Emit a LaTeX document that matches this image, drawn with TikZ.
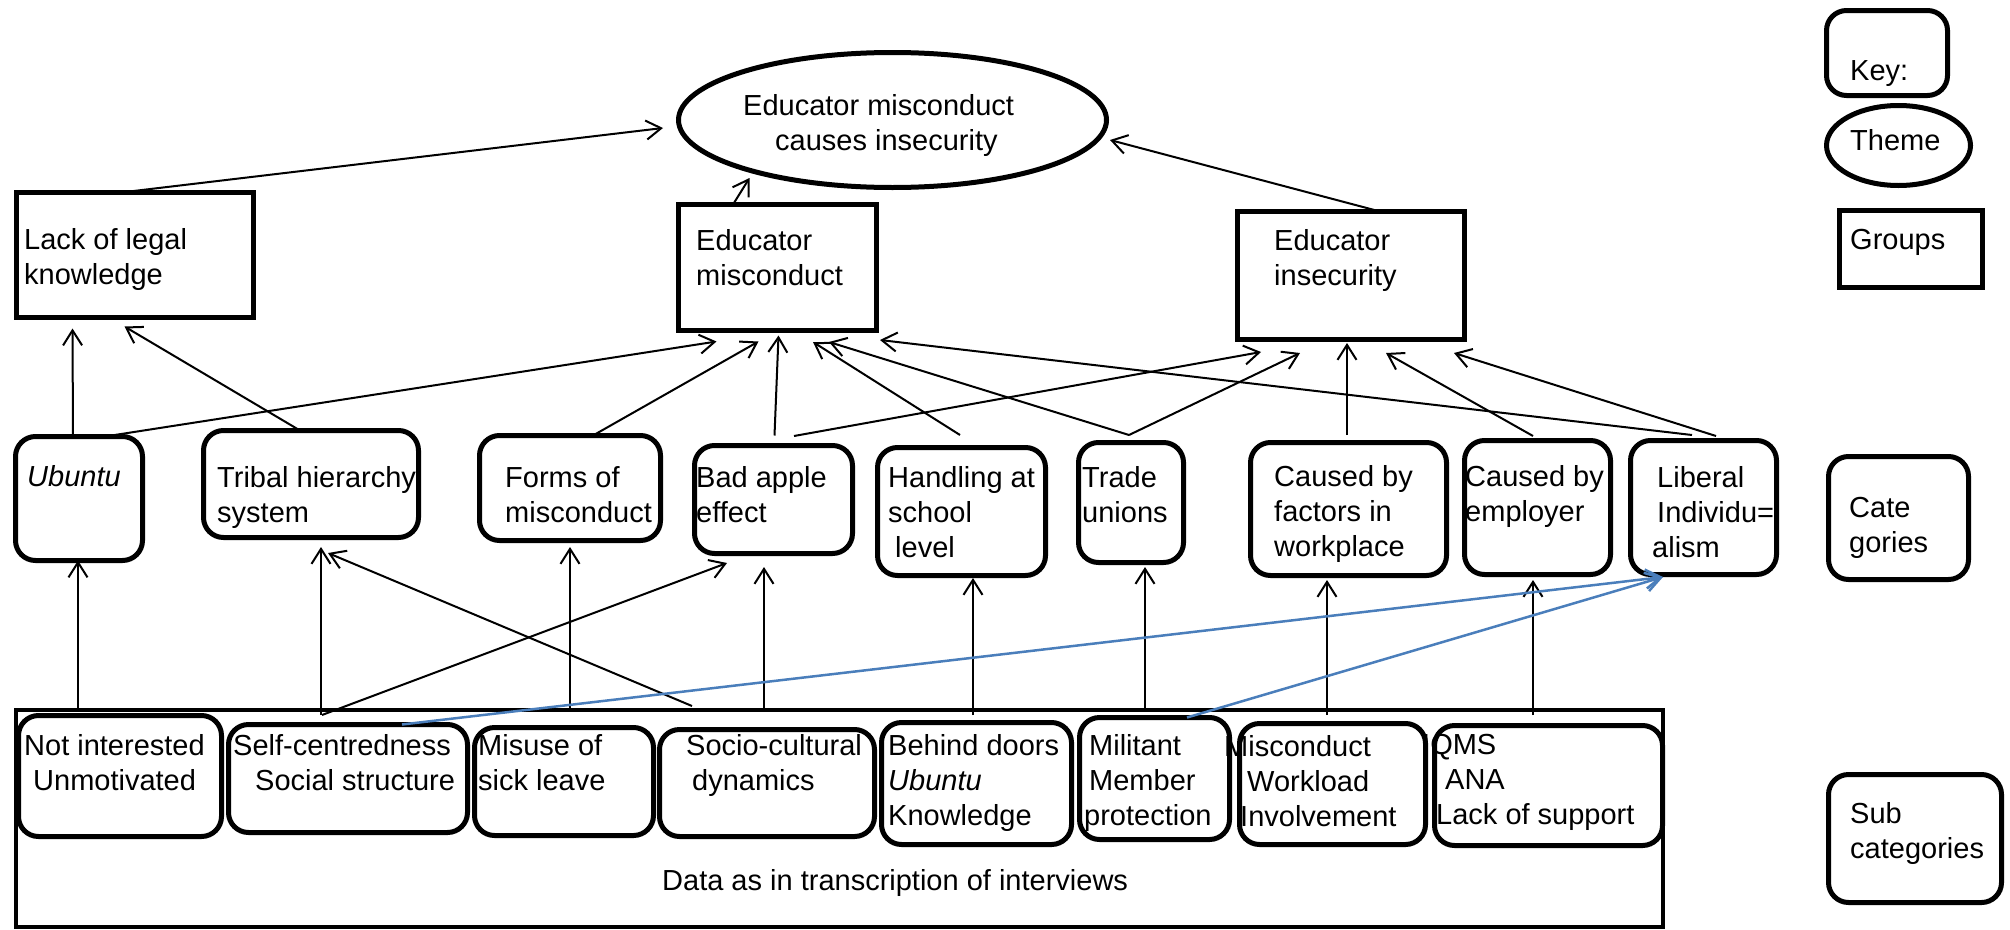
\documentclass[tikz,border=0pt]{standalone}
\usepackage{fontspec}
\setmainfont{Liberation Sans}
\usepackage{xcolor}
\usetikzlibrary{shapes.geometric, arrows.meta}
\definecolor{linkblue}{RGB}{74,126,187}
\tikzset{
  grpbox/.style={
    rectangle, draw=black, line width=5pt,
    inner sep=0pt, outer sep=0pt,
  },
  catbox/.style={
    rectangle, rounded corners=20pt,
    draw=black, line width=5pt,
    inner sep=0pt, outer sep=0pt,
  },
  themeell/.style={
    ellipse, draw=black, line width=5pt,
    inner sep=0pt, outer sep=0pt,
  },
  lbl/.style={
    font=\fontsize{29}{35}\selectfont,
    inner sep=0pt, anchor=north west, align=left,
  },
  arrow/.style={-{Straight Barb[length=15pt, width=19pt]}, line width=2pt},
}

\begin{document}
\begin{tikzpicture}[
  x=1pt, y=-1pt,
  link/.style={arrow, draw=linkblue, line width=2.5pt},
]
  \useasboundingbox (0,0) rectangle (2010,929);

  % Theme and groups
  \node[themeell, minimum width=428pt, minimum height=135pt] (theme) at (892.5,120) {};
  \node[grpbox, minimum width=237pt, minimum height=125pt] (lack)   at (135,255) {};
  \node[grpbox, minimum width=198pt, minimum height=126pt] (emis)   at (777.5,267.5) {};
  \node[grpbox, minimum width=227pt, minimum height=128pt] (einsec) at (1351,275.5) {};

  % Categories
  \node[catbox, minimum width=127pt, minimum height=124pt] (ubuntu)   at (79,498.5) {};
  \node[catbox, minimum width=215pt, minimum height=107pt] (tribal)   at (311,484) {};
  \node[catbox, minimum width=181pt, minimum height=105pt] (forms)    at (570,488) {};
  \node[catbox, minimum width=158pt, minimum height=108pt] (badapple) at (773.5,499.5) {};
  \node[catbox, minimum width=168pt, minimum height=128pt] (handling) at (961.5,511.5) {};
  \node[catbox, minimum width=105pt, minimum height=120pt] (trade)    at (1131,502.5) {};
  \node[catbox, minimum width=196pt, minimum height=133pt] (factors)  at (1348.5,509) {};
  \node[catbox, minimum width=146pt, minimum height=134pt] (employer) at (1537.5,507.5) {};
  \node[catbox, minimum width=146pt, minimum height=134pt] (liberal)  at (1703.5,507.5) {};

  % Sub categories on the data
  \node[grpbox, line width=4pt, minimum width=1647pt, minimum height=217pt] (data) at (839.5,818.5) {};
  \node[catbox, minimum width=203pt, minimum height=121pt] (notint)   at (120,776) {};
  \node[catbox, minimum width=239pt, minimum height=108pt] (selfc)    at (348,778.5) {};
  \node[catbox, minimum width=179pt, minimum height=108pt] (misuse)   at (564,781.5) {};
  \node[catbox, minimum width=215pt, minimum height=107pt] (socio)    at (767,783) {};
  \node[catbox, minimum width=190pt, minimum height=122pt] (behind)   at (976.5,783.5) {};
  \node[catbox, minimum width=150pt, minimum height=122pt] (militant) at (1154.5,778.5) {};
  \node[catbox, minimum width=186pt, minimum height=121pt] (miscond)  at (1332.5,784) {};
  \node[catbox, minimum width=228pt, minimum height=120pt] (iqms)     at (1548.5,785.5) {};

  % Key
  \node[catbox, minimum width=121pt, minimum height=85pt]  (keybox)   at (1887,53) {};
  \node[themeell, minimum width=144pt, minimum height=80pt] (keytheme) at (1898.5,145.5) {};
  \node[grpbox, minimum width=143pt, minimum height=77pt]  (keygrp)   at (1911,249) {};
  \node[catbox, minimum width=140pt, minimum height=123pt] (keycat)   at (1898.5,518) {};
  \node[catbox, minimum width=173pt, minimum height=128pt] (keysub)   at (1915,838.5) {};

  % Arrows (groups -> theme)
  \draw[arrow] ([xshift=104.5pt]lack.north west) -- ([xshift=-15.5pt,yshift=-8pt]theme.west);
  \draw[arrow] ([xshift=54.5pt]emis.north west)  -- ([xshift=-143pt,yshift=9.5pt]theme.south);
  \draw[arrow] ([xshift=142.5pt]einsec.north west) -- ([xshift=3.5pt,yshift=-20pt]theme.east);

  % Arrows (categories -> groups)
  \draw[arrow] ([xshift=-6pt]ubuntu.north)  -- ([xshift=56pt,yshift=-11pt]lack.south west);
  \draw[arrow] ([xshift=-11pt]tribal.north) -- ([xshift=108pt,yshift=-9pt]lack.south west);
  \draw[arrow] ([xshift=26pt]ubuntu.north)  -- ([xshift=38pt,yshift=-11pt]emis.south west);
  \draw[arrow] ([xshift=23pt]forms.north)   -- ([xshift=80pt,yshift=-11pt]emis.south west);
  \draw[arrow] ([xshift=1pt,yshift=10pt]badapple.north) -- ([xshift=100pt,yshift=-5pt]emis.south west);
  \draw[arrow] ([xshift=20.5pt,yshift=9.5pt]badapple.north) -- ([xshift=23.5pt,yshift=-12.5pt]einsec.south west);
  \draw[arrow] ([xshift=-1.5pt,yshift=12.5pt]handling.north) -- ([xshift=134.5pt,yshift=-11.5pt]emis.south west);
  \draw[arrow] ([xshift=-2pt,yshift=7.5pt]trade.north) -- ([xshift=150.5pt,yshift=-11.5pt]emis.south west);
  \draw[arrow] ([xshift=-2pt,yshift=7.5pt]trade.north) -- ([xshift=62.5pt,yshift=-13.5pt]einsec.south west);
  \draw[arrow] ([xshift=-11.5pt,yshift=5.5pt]liberal.north) -- ([xshift=3.5pt,yshift=-9.5pt]emis.south east);
  \draw[arrow] ([xshift=-1.5pt,yshift=7.5pt]factors.north) -- ([xshift=-4pt,yshift=-3.5pt]einsec.south);
  \draw[arrow] ([xshift=-4.5pt,yshift=4.5pt]employer.north) -- ([xshift=148.5pt,yshift=-13.5pt]einsec.south west);
  \draw[arrow] ([xshift=12.5pt,yshift=4.5pt]liberal.north) -- ([xshift=-10.5pt,yshift=-13.5pt]einsec.south east);

  % Arrows (sub categories -> categories)
  \draw[arrow] ([xshift=-42pt,yshift=7.5pt]notint.north) -- ([xshift=-1pt]ubuntu.south);
  \draw[arrow] ([xshift=-27pt,yshift=9.5pt]selfc.north) -- ([xshift=10pt,yshift=-9.5pt]tribal.south);
  \draw[arrow] ([xshift=-26pt,yshift=9.5pt]selfc.north) -- ([xshift=-46.5pt,yshift=-9.5pt]badapple.south);
  \draw[arrow] ([xshift=-75pt,yshift=23.5pt]socio.north) -- ([xshift=17pt,yshift=-15.5pt]tribal.south);
  \draw[arrow] ([xshift=6pt,yshift=19.5pt]misuse.north) -- ([yshift=-6.5pt]forms.south);
  \draw[arrow] ([xshift=-3pt,yshift=21.5pt]socio.north) -- ([xshift=-9.5pt,yshift=-13.5pt]badapple.south);
  \draw[arrow] ([xshift=-3.5pt,yshift=7.5pt]behind.north) -- ([xshift=11.5pt,yshift=-2.5pt]handling.south);
  \draw[arrow] ([xshift=-9.5pt,yshift=9.5pt]militant.north) -- ([xshift=14pt,yshift=-4.5pt]trade.south);
  \draw[arrow] ([xshift=-5.5pt,yshift=8.5pt]miscond.north) -- ([xshift=-21.5pt,yshift=-4.5pt]factors.south);
  \draw[arrow] ([xshift=-15.5pt,yshift=10.5pt]iqms.north) -- ([xshift=-4.5pt,yshift=-5.5pt]employer.south);
  \draw[link] ([xshift=54pt]selfc.north) -- ([xshift=-40.5pt,yshift=-2.5pt]liberal.south);
  \draw[link] ([xshift=32.5pt]militant.north) -- ([xshift=-40.5pt,yshift=-2.5pt]liberal.south);

  % Texts
  \node[lbl] (theme-t)    at (743,94)   {Educator misconduct\\\hspace*{32pt}causes insecurity};
  \node[lbl] (lack-t)     at (24,228)   {Lack of legal\\knowledge};
  \node[lbl] (emis-t)     at (696,229)  {Educator\\misconduct};
  \node[lbl] (einsec-t)   at (1274,229) {Educator\\insecurity};
  \node[lbl] (ubuntu-t)   at (27,465)   {\textit{Ubuntu}};
  \node[lbl] (tribal-t)   at (217,466)  {Tribal hierarchy\\system};
  \node[lbl] (forms-t)    at (505,466)  {Forms of\\misconduct};
  \node[lbl] (badapple-t) at (696,466)  {Bad apple\\effect};
  \node[lbl] (handling-t) at (888,466)  {Handling at\\school\\\hspace*{7pt}level};
  \node[lbl] (trade-t)    at (1082,466) {Trade\\unions};
  \node[lbl] (factors-t)  at (1274,465) {Caused by\\factors in\\workplace};
  \node[lbl] (employer-t) at (1465,465) {Caused by\\employer};
  \node[lbl] (liberal-t)  at (1652,466) {\hspace*{5pt}Liberal\\\hspace*{5pt}Individu=\\alism};
  \node[lbl] (notint-t)   at (24,734)   {Not interested\\\hspace*{9pt}Unmotivated};
  \node[lbl] (selfc-t)    at (233,734)  {Self-centredness\\\hspace*{22pt}Social structure};
  \node[lbl] (misuse-t)   at (478,734)  {Misuse of\\sick leave};
  \node[lbl] (socio-t)    at (686,734)  {Socio-cultural\\\hspace*{6pt}dynamics};
  \node[lbl] (behind-t)   at (888,734)  {Behind doors\\\textit{Ubuntu}\\Knowledge};
  \node[lbl] (militant-t) at (1084,734) {\hspace*{5pt}Militant\\\hspace*{5pt}Member\\protection};
  \node[lbl] (miscond-t)  at (1224,735) {Misconduct\\\hspace*{23pt}Workload\\\hspace*{16pt}Involvement};
  \node[lbl] (iqms-t)     at (1422,734) {IQMS\\\hspace*{23pt}ANA\\\hspace*{14pt}Lack of support};
  \node[lbl] (data-t)     at (662,869)  {Data as in transcription of interviews};
  \node[lbl] (keybox-t)   at (1850,60)  {Key:};
  \node[lbl] (keytheme-t) at (1850,129) {Theme};
  \node[lbl] (keygrp-t)   at (1850,229) {Groups};
  \node[lbl] (keycat-t)   at (1849,497) {Cate\\gories};
  \node[lbl] (keysub-t)   at (1850,802) {Sub\\categories};

\end{tikzpicture}
\end{document}
